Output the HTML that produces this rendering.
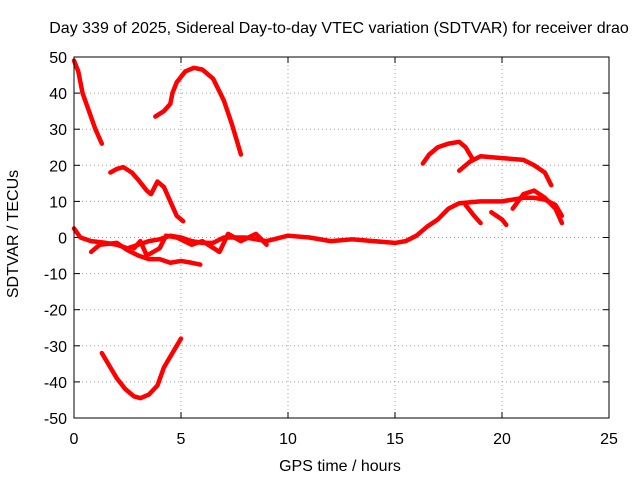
<!DOCTYPE html>
<html><head><meta charset="utf-8"><style>
body{margin:0;background:#fff;}
svg{display:block;font-family:"Liberation Sans",Arial,sans-serif;}
</style></head><body>
<svg id="c" width="640" height="480">
<text x="339" y="33" text-anchor="middle" font-size="16">Day 339 of 2025, Sidereal Day-to-day VTEC variation (SDTVAR) for receiver drao</text>
<text x="340" y="471" text-anchor="middle" font-size="16">GPS time / hours</text>
<text x="18" y="234" text-anchor="middle" font-size="16" transform="rotate(-90 18 234)">SDTVAR / TECUs</text>
<g id="grid"></g><g id="ticks"></g><g id="marks"></g>
<rect x="74" y="57" width="535" height="361" fill="none" stroke="#000" stroke-width="1"/>
</svg>
<script>
const xTicks=[0,5,10,15,20,25];
const yTicks=[-50,-40,-30,-20,-10,0,10,20,30,40,50];
const track1=[[0,49],[0.2,46],[0.4,40],[0.7,35],[1,30],[1.3,26]];
const track2=[[1.7,18],[2,19],[2.3,19.5],[2.7,18],[3,16],[3.4,13],[3.6,12],[3.9,15.5],[4.2,14],[4.5,10],[4.8,6],[5.1,4.5]];
const track3=[[3.8,33.5],[4.2,35],[4.5,37],[4.6,40],[4.8,43],[5.2,46],[5.6,47],[6,46.5],[6.5,44],[7,38],[7.4,31],[7.8,23]];
const track4=[[1.3,-32],[1.6,-35],[2,-39],[2.4,-42],[2.8,-44],[3.1,-44.5],[3.5,-43.5],[3.9,-41],[4.2,-36],[4.5,-33],[4.8,-30],[5,-28]];
const track5=[[0,2.5],[0.3,0],[0.8,-1],[1.5,-1.5],[2,-2],[2.5,-3],[3,-2],[3.5,-1],[4,-0.5],[4.5,0.5],[5,0],[5.5,-1],[6,-1.5],[6.5,-1.5],[7,0],[8,0],[9,-1],[10,0.5],[11,0],[12,-1],[13,-0.5],[14,-1],[15,-1.5],[15.5,-1],[16,0.5],[16.5,3],[17,5],[17.5,8],[18,9.5],[19,10],[20,10],[21,11],[21.5,11],[22,10.5],[22.5,9],[22.8,6]];
const track6=[[0.8,-4],[1.2,-2],[2,-1.5],[2.5,-3.5],[3,-5],[3.5,-6],[4,-6],[4.5,-7],[5,-6.5],[5.5,-7],[5.9,-7.5]];
const track7=[[2.8,-3],[3.1,-1],[3.4,-5],[4,-3],[4.3,0.5],[4.8,0],[5.5,-2],[6,-1],[6.8,-4],[7.2,1],[7.8,-1],[8.5,1],[9,-2]];
const track8=[[16.3,20.5],[16.6,23],[17,25],[17.5,26],[18,26.5],[18.3,25],[18.6,22]];
const track9=[[18,18.5],[18.5,21],[19,22.5],[20,22],[21,21.5],[21.5,20],[22,18],[22.3,14.5]];
const track10=[[18.3,9],[18.7,6],[19,4]];
const track11=[[19.5,7],[20,5],[20.2,3.5]];
const track12=[[20.5,8],[21,12],[21.5,13],[22,11],[22.5,8],[22.8,4]];
const tracks=[track1,track2,track3,track4,track5,track6,track7,track8,track9,track10,track11,track12];
const X0=74,X1=609,Y0=418,Y1=57;
function xs(v){return X0+(v-0)/(25-0)*(X1-X0);}
function ys(v){return Y0-(v+50)/100*(Y0-Y1);}
const NS="http://www.w3.org/2000/svg";
function mk(t,a,p){const e=document.createElementNS(NS,t);for(const k in a)e.setAttribute(k,a[k]);p.appendChild(e);return e;}
const g=document.getElementById('grid'),tk=document.getElementById('ticks'),m=document.getElementById('marks');
xTicks.forEach(v=>{
 const x=xs(v);
 if(v>0&&v<25){const l=mk('line',{x1:x,x2:x,y1:Y1,y2:Y0,stroke:'#a0a0a0','stroke-dasharray':'1,3'},g);
 
 }
 mk('line',{x1:x,x2:x,y1:Y0,y2:Y0-6,stroke:'#000'},tk);
 mk('line',{x1:x,x2:x,y1:Y1,y2:Y1+6,stroke:'#000'},tk);
 const t=mk('text',{x:x,y:444,'text-anchor':'middle','font-size':16},tk);t.textContent=v;
 
 
});
yTicks.forEach(v=>{
 const y=ys(v);
 if(v>-50&&v<50){const l=mk('line',{x1:X0,x2:X1,y1:y,y2:y,stroke:'#a0a0a0','stroke-dasharray':'1,3'},g);
 
 }
 mk('line',{x1:X0,x2:X0+6,y1:y,y2:y,stroke:'#000'},tk);
 mk('line',{x1:X1,x2:X1-6,y1:y,y2:y,stroke:'#000'},tk);
 const t=mk('text',{x:X0-7,y:y+6,'text-anchor':'end','font-size':16},tk);t.textContent=v;
 
 
});
tracks.forEach((tr,i)=>{
 const p=mk('polyline',{points:tr.map(d=>xs(d[0])+','+ys(d[1])).join(' '),fill:'none',stroke:'#ff0000','stroke-width':4.5,'stroke-linejoin':'round','stroke-linecap':'round'},m);
 
 
});
</script>
</body></html>
